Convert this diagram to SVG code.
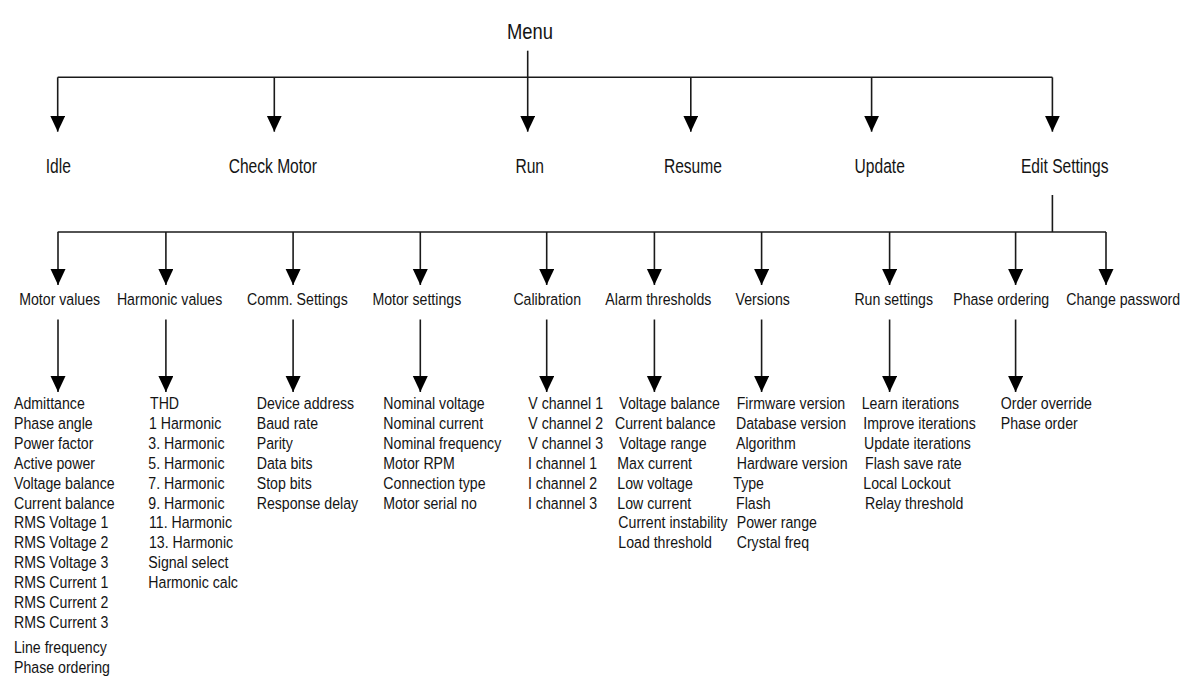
<svg xmlns="http://www.w3.org/2000/svg" width="1191" height="679" viewBox="0 0 1191 679">
<defs>
<style>
text{font-family:"Liberation Sans",Arial,sans-serif;fill:#141414}
.m{font-size:22px}
.l1{font-size:19.5px}
.l2{font-size:17px}
.c line,.c path{stroke:#1a1a1a;stroke-width:1.6;fill:none}
</style>
<marker id="ah" markerUnits="userSpaceOnUse" markerWidth="17" markerHeight="16" refX="16" refY="7.5" orient="auto" viewBox="0 0 17 16">
<path d="M0,0 L16,7.5 L0,15 Z" fill="#000"/>
</marker>
</defs>
<rect width="1191" height="679" fill="#fff"/>

<g id="connectors" class="c">
<line x1="527.7" y1="50.7" x2="527.7" y2="131.7" marker-end="url(#ah)"/>
<line x1="57.7" y1="77.3" x2="1052.4" y2="77.3"/>
<line x1="57.7" y1="77.3" x2="57.7" y2="131.7" marker-end="url(#ah)"/>
<line x1="274.3" y1="77.3" x2="274.3" y2="131.7" marker-end="url(#ah)"/>
<line x1="690.8" y1="77.3" x2="690.8" y2="131.7" marker-end="url(#ah)"/>
<line x1="871.6" y1="77.3" x2="871.6" y2="131.7" marker-end="url(#ah)"/>
<line x1="1052.4" y1="77.3" x2="1052.4" y2="131.7" marker-end="url(#ah)"/>
<line x1="1052.4" y1="195" x2="1052.4" y2="232"/>
<line x1="57.7" y1="232" x2="1106" y2="232"/>
<line x1="58" y1="232" x2="58" y2="285" marker-end="url(#ah)"/>
<line x1="165.9" y1="232" x2="165.9" y2="285" marker-end="url(#ah)"/>
<line x1="293.1" y1="232" x2="293.1" y2="285" marker-end="url(#ah)"/>
<line x1="420.3" y1="232" x2="420.3" y2="285" marker-end="url(#ah)"/>
<line x1="546.7" y1="232" x2="546.7" y2="285" marker-end="url(#ah)"/>
<line x1="654.4" y1="232" x2="654.4" y2="285" marker-end="url(#ah)"/>
<line x1="761.6" y1="232" x2="761.6" y2="285" marker-end="url(#ah)"/>
<line x1="889.6" y1="232" x2="889.6" y2="285" marker-end="url(#ah)"/>
<line x1="1015.6" y1="232" x2="1015.6" y2="285" marker-end="url(#ah)"/>
<line x1="1106" y1="232" x2="1106" y2="285" marker-end="url(#ah)"/>
<line x1="58" y1="319.5" x2="58" y2="392" marker-end="url(#ah)"/>
<line x1="165.9" y1="319.5" x2="165.9" y2="392" marker-end="url(#ah)"/>
<line x1="293.1" y1="319.5" x2="293.1" y2="392" marker-end="url(#ah)"/>
<line x1="420.3" y1="319.5" x2="420.3" y2="392" marker-end="url(#ah)"/>
<line x1="546.7" y1="319.5" x2="546.7" y2="392" marker-end="url(#ah)"/>
<line x1="654.4" y1="319.5" x2="654.4" y2="392" marker-end="url(#ah)"/>
<line x1="761.6" y1="319.5" x2="761.6" y2="392" marker-end="url(#ah)"/>
<line x1="889.6" y1="319.5" x2="889.6" y2="392" marker-end="url(#ah)"/>
<line x1="1015.6" y1="319.5" x2="1015.6" y2="392" marker-end="url(#ah)"/>
</g>

<g id="menu"><text class="m" text-anchor="middle" transform="translate(530,39.3) scale(0.836,1)">Menu</text></g>

<g id="idle"><text class="l1" text-anchor="middle" transform="translate(58.3,173.3) scale(0.8,1)">Idle</text></g>
<g id="check-motor"><text class="l1" text-anchor="middle" transform="translate(272.8,173.3) scale(0.8,1)">Check Motor</text></g>
<g id="run"><text class="l1" text-anchor="middle" transform="translate(529.7,173.3) scale(0.8,1)">Run</text></g>
<g id="resume"><text class="l1" text-anchor="middle" transform="translate(692.9,173.3) scale(0.8,1)">Resume</text></g>
<g id="update"><text class="l1" text-anchor="middle" transform="translate(879.7,173.3) scale(0.8,1)">Update</text></g>
<g id="edit-settings"><text class="l1" text-anchor="middle" transform="translate(1064.7,173.3) scale(0.8,1)">Edit Settings</text></g>

<g id="motor-values"><text class="l2" transform="translate(19.2,305) scale(0.833,1)">Motor values</text></g>
<g id="harmonic-values"><text class="l2" transform="translate(116.9,305) scale(0.833,1)">Harmonic values</text></g>
<g id="comm-settings"><text class="l2" transform="translate(247.1,305) scale(0.833,1)">Comm. Settings</text></g>
<g id="motor-settings"><text class="l2" transform="translate(372.4,305) scale(0.833,1)">Motor settings</text></g>
<g id="calibration"><text class="l2" transform="translate(513.4,305) scale(0.833,1)">Calibration</text></g>
<g id="alarm-thresholds"><text class="l2" transform="translate(605.3,305) scale(0.833,1)">Alarm thresholds</text></g>
<g id="versions"><text class="l2" transform="translate(735.6,305) scale(0.833,1)">Versions</text></g>
<g id="run-settings"><text class="l2" transform="translate(854.4,305) scale(0.833,1)">Run settings</text></g>
<g id="phase-ordering"><text class="l2" transform="translate(953.2,305) scale(0.833,1)">Phase ordering</text></g>
<g id="change-password"><text class="l2" transform="translate(1066.2,305) scale(0.833,1)">Change password</text></g>

<g id="motor-values-list" class="l2">
<text class="l2" transform="translate(14,408.8) scale(0.833,1)">Admittance</text>
<text class="l2" transform="translate(14,428.7) scale(0.833,1)">Phase angle</text>
<text class="l2" transform="translate(14,448.7) scale(0.833,1)">Power factor</text>
<text class="l2" transform="translate(14,468.6) scale(0.833,1)">Active power</text>
<text class="l2" transform="translate(14,488.6) scale(0.833,1)">Voltage balance</text>
<text class="l2" transform="translate(14,508.5) scale(0.833,1)">Current balance</text>
<text class="l2" transform="translate(14,528.4) scale(0.833,1)">RMS Voltage 1</text>
<text class="l2" transform="translate(14,548.4) scale(0.833,1)">RMS Voltage 2</text>
<text class="l2" transform="translate(14,568.3) scale(0.833,1)">RMS Voltage 3</text>
<text class="l2" transform="translate(14,588.3) scale(0.833,1)">RMS Current 1</text>
<text class="l2" transform="translate(14,608.2) scale(0.833,1)">RMS Current 2</text>
<text class="l2" transform="translate(14,628.1) scale(0.833,1)">RMS Current 3</text>
<text class="l2" transform="translate(14,652.7) scale(0.833,1)">Line frequency</text>
<text class="l2" transform="translate(14,672.7) scale(0.833,1)">Phase ordering</text>
</g>

<g id="harmonic-values-list">
<text class="l2" transform="translate(150,408.8) scale(0.833,1)">THD</text>
<text class="l2" transform="translate(149,428.7) scale(0.833,1)">1 Harmonic</text>
<text class="l2" transform="translate(148.3,448.7) scale(0.833,1)">3. Harmonic</text>
<text class="l2" transform="translate(148.3,468.6) scale(0.833,1)">5. Harmonic</text>
<text class="l2" transform="translate(148.3,488.6) scale(0.833,1)">7. Harmonic</text>
<text class="l2" transform="translate(148.3,508.5) scale(0.833,1)">9. Harmonic</text>
<text class="l2" transform="translate(149,528.4) scale(0.833,1)">11. Harmonic</text>
<text class="l2" transform="translate(149,548.4) scale(0.833,1)">13. Harmonic</text>
<text class="l2" transform="translate(148.3,568.3) scale(0.833,1)">Signal select</text>
<text class="l2" transform="translate(148.3,588.3) scale(0.833,1)">Harmonic calc</text>
</g>

<g id="comm-settings-list">
<text class="l2" transform="translate(256.7,408.8) scale(0.833,1)">Device address</text>
<text class="l2" transform="translate(256.7,428.7) scale(0.833,1)">Baud rate</text>
<text class="l2" transform="translate(256.7,448.7) scale(0.833,1)">Parity</text>
<text class="l2" transform="translate(256.7,468.6) scale(0.833,1)">Data bits</text>
<text class="l2" transform="translate(256.7,488.6) scale(0.833,1)">Stop bits</text>
<text class="l2" transform="translate(256.7,508.5) scale(0.833,1)">Response delay</text>
</g>

<g id="motor-settings-list">
<text class="l2" transform="translate(383.3,408.8) scale(0.833,1)">Nominal voltage</text>
<text class="l2" transform="translate(383.3,428.7) scale(0.833,1)">Nominal current</text>
<text class="l2" transform="translate(383.3,448.7) scale(0.833,1)">Nominal frequency</text>
<text class="l2" transform="translate(383.3,468.6) scale(0.833,1)">Motor RPM</text>
<text class="l2" transform="translate(383.3,488.6) scale(0.833,1)">Connection type</text>
<text class="l2" transform="translate(383.3,508.5) scale(0.833,1)">Motor serial no</text>
</g>

<g id="calibration-list">
<text class="l2" transform="translate(528.3,408.8) scale(0.833,1)">V channel 1</text>
<text class="l2" transform="translate(528.3,428.7) scale(0.833,1)">V channel 2</text>
<text class="l2" transform="translate(528.3,448.7) scale(0.833,1)">V channel 3</text>
<text class="l2" transform="translate(528,468.6) scale(0.833,1)">I channel 1</text>
<text class="l2" transform="translate(528,488.6) scale(0.833,1)">I channel 2</text>
<text class="l2" transform="translate(528,508.5) scale(0.833,1)">I channel 3</text>
</g>

<g id="alarm-thresholds-list">
<text class="l2" transform="translate(619.3,408.8) scale(0.833,1)">Voltage balance</text>
<text class="l2" transform="translate(615,428.7) scale(0.833,1)">Current balance</text>
<text class="l2" transform="translate(619.3,448.7) scale(0.833,1)">Voltage range</text>
<text class="l2" transform="translate(617.3,468.6) scale(0.833,1)">Max current</text>
<text class="l2" transform="translate(617.3,488.6) scale(0.833,1)">Low voltage</text>
<text class="l2" transform="translate(617.3,508.5) scale(0.833,1)">Low current</text>
<text class="l2" transform="translate(618.3,528.4) scale(0.833,1)">Current instability</text>
<text class="l2" transform="translate(618.3,548.4) scale(0.833,1)">Load threshold</text>
</g>

<g id="versions-list">
<text class="l2" transform="translate(736.7,408.8) scale(0.833,1)">Firmware version</text>
<text class="l2" transform="translate(736,428.7) scale(0.833,1)">Database version</text>
<text class="l2" transform="translate(736,448.7) scale(0.833,1)">Algorithm</text>
<text class="l2" transform="translate(736.7,468.6) scale(0.833,1)">Hardware version</text>
<text class="l2" transform="translate(733.3,488.6) scale(0.833,1)">Type</text>
<text class="l2" transform="translate(736,508.5) scale(0.833,1)">Flash</text>
<text class="l2" transform="translate(736.7,528.4) scale(0.833,1)">Power range</text>
<text class="l2" transform="translate(736.7,548.4) scale(0.833,1)">Crystal freq</text>
</g>

<g id="run-settings-list">
<text class="l2" transform="translate(861.7,408.8) scale(0.833,1)">Learn iterations</text>
<text class="l2" transform="translate(863.3,428.7) scale(0.833,1)">Improve iterations</text>
<text class="l2" transform="translate(864,448.7) scale(0.833,1)">Update iterations</text>
<text class="l2" transform="translate(865,468.6) scale(0.833,1)">Flash save rate</text>
<text class="l2" transform="translate(863.3,488.6) scale(0.833,1)">Local Lockout</text>
<text class="l2" transform="translate(865,508.5) scale(0.833,1)">Relay threshold</text>
</g>

<g id="phase-ordering-list">
<text class="l2" transform="translate(1000.7,408.8) scale(0.833,1)">Order override</text>
<text class="l2" transform="translate(1000.7,428.7) scale(0.833,1)">Phase order</text>
</g>
</svg>
